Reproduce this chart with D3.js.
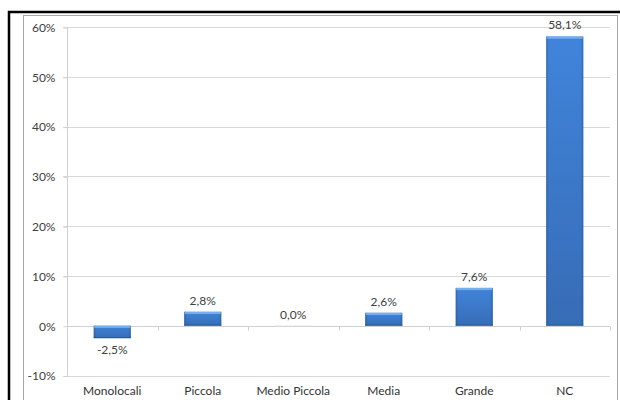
<!DOCTYPE html>
<html>
<head>
<meta charset="utf-8">
<script src="https://cdn.jsdelivr.net/npm/d3@7/dist/d3.min.js"></script>
<style>
  html, body { margin: 0; padding: 0; background: #fff; }
  svg { display: block; }
  text { font-family: Lato, "Open Sans", sans-serif; }
</style>
</head>
<body>
<svg id="chart" width="620" height="400"></svg>
<script>
const categories = ["Monolocali", "Piccola", "Medio Piccola", "Media", "Grande", "NC"];
const values = [-2.5, 2.8, 0.0, 2.6, 7.6, 58.1];
const yTicks = [-10, 0, 10, 20, 30, 40, 50, 60];

const svg = d3.select("#chart");
const W = 620, H = 400;

// outer black frame & inner gray frame
svg.append("rect").attr("x", 9).attr("y", 12).attr("width", W + 10).attr("height", H + 10)
  .attr("fill", "none").attr("stroke", "#000").attr("stroke-width", 2.5);
svg.append("rect").attr("x", 23.5).attr("y", 15.5).attr("width", 594).attr("height", H)
  .attr("fill", "#fff").attr("stroke", "#a6a6a6").attr("stroke-width", 1);

const left = 67, right = 610;
const y = d3.scaleLinear().domain([-10, 60]).range([375.5, 27]);
const x = d3.scaleBand().domain(categories).range([left, right]).paddingInner(0.59).paddingOuter(0.295);
const xb = d3.scaleBand().domain(categories).range([left, right]);

const defs = svg.append("defs");
const gv = defs.append("linearGradient").attr("id", "gv").attr("x1", 0).attr("y1", 0).attr("x2", 0).attr("y2", 1);
gv.append("stop").attr("offset", "0%").attr("stop-color", "#4084da");
gv.append("stop").attr("offset", "100%").attr("stop-color", "#376cb6");
const gh = defs.append("linearGradient").attr("id", "gh").attr("x1", 0).attr("y1", 0).attr("x2", 1).attr("y2", 0);
gh.append("stop").attr("offset", "0%").attr("stop-color", "#1f4b86").attr("stop-opacity", 0.45);
gh.append("stop").attr("offset", "7%").attr("stop-color", "#1f4b86").attr("stop-opacity", 0.0);
gh.append("stop").attr("offset", "93%").attr("stop-color", "#1f4b86").attr("stop-opacity", 0.0);
gh.append("stop").attr("offset", "100%").attr("stop-color", "#1f4b86").attr("stop-opacity", 0.45);

// gridlines
svg.append("g").selectAll("line").data(yTicks.filter(t => t !== 0)).join("line")
  .attr("x1", left - 4).attr("x2", right)
  .attr("y1", d => Math.round(y(d)) + 0.5).attr("y2", d => Math.round(y(d)) + 0.5)
  .attr("stroke", "#d9d9d9").attr("stroke-width", 1);

// y axis
const yAxis = d3.axisLeft(y).tickValues(yTicks).tickSize(4).tickFormat(d => d + "%");
const gy = svg.append("g").attr("transform", `translate(${left + 0.5},0.5)`).call(yAxis);
gy.select(".domain").attr("stroke", "#d0d0d0").attr("d", `M0,${y(60) - 0.5}V${y(-10) - 0.5}`);
gy.selectAll(".tick line").attr("stroke", "#d0d0d0");
gy.selectAll(".tick text").attr("x", -12).attr("font-size", 12).attr("fill", "#404040").attr("font-family", "Lato, sans-serif");

// x axis at zero
const y0 = Math.round(y(0)) + 0.5;
svg.append("line").attr("x1", left).attr("x2", right).attr("y1", y0).attr("y2", y0)
  .attr("stroke", "#d0d0d0");
svg.append("g").selectAll("line").data(categories).join("line")
  .attr("x1", d => Math.round(xb(d) + xb.bandwidth()) + 0.5)
  .attr("x2", d => Math.round(xb(d) + xb.bandwidth()) + 0.5)
  .attr("y1", y0).attr("y2", y0 + 4).attr("stroke", "#d0d0d0");

// bars
const bars = svg.append("g").selectAll("g").data(categories.map((c, i) => ({ c, v: values[i] }))).join("g");
bars.each(function (d) {
  const g = d3.select(this);
  const bx = x(d.c), bw = x.bandwidth();
  const top = y(Math.max(0, d.v)), h = Math.abs(y(d.v) - y(0));
  if (h < 0.5) {
    g.append("rect").attr("x", bx).attr("y", y(0) - 0.5).attr("width", bw).attr("height", 1)
      .attr("fill", "#e8eef6");
    return;
  }
  g.append("rect").attr("x", bx).attr("y", top).attr("width", bw).attr("height", h).attr("fill", "url(#gv)");
  g.append("rect").attr("x", bx).attr("y", top).attr("width", bw).attr("height", h).attr("fill", "url(#gh)");
  g.append("rect").attr("x", bx + 0.5).attr("y", top).attr("width", bw - 1).attr("height", 2.2)
    .attr("fill", "#7db3f0").attr("opacity", 0.9);
  g.append("rect").attr("x", bx).attr("y", top + h - 1.2).attr("width", bw).attr("height", 1.2)
    .attr("fill", "#24528f").attr("opacity", 0.7);
});

// value labels
const fmt = v => v.toFixed(1).replace(".", ",") + "%";
svg.append("g").selectAll("text").data(categories.map((c, i) => ({ c, v: values[i] }))).join("text")
  .attr("x", d => x(d.c) + x.bandwidth() / 2)
  .attr("y", d => d.v < 0 ? y(d.v) + 16 : y(d.v) - 7)
  .attr("text-anchor", "middle").attr("font-size", 12).attr("fill", "#404040")
  .text(d => fmt(d.v));

// category labels
svg.append("g").selectAll("text").data(categories).join("text")
  .attr("x", d => xb(d) + xb.bandwidth() / 2)
  .attr("y", 395)
  .attr("text-anchor", "middle").attr("font-size", 12).attr("fill", "#333")
  .text(d => d);
</script>
</body>
</html>
